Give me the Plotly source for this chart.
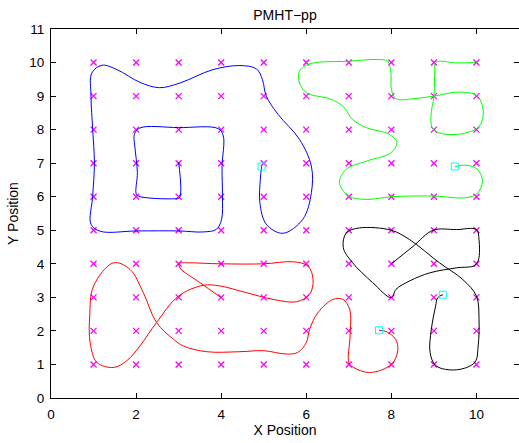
import plotly.graph_objects as go

# grid of candidate positions (magenta x)
grid_x = [1, 2, 3, 4, 5, 6, 7, 8, 9, 10]
grid_y = [1, 2, 3, 4, 5, 6, 7, 8, 9, 10]

# blue track
blue_x = [3.00, 3.02, 2.91, 2.05, 2.00, 2.03, 1.97, 1.96, 2.09, 3.00, 3.93, 4.05, 4.02, 4.03, 4.01, 3.89,
          3.58, 3.00, 2.02, 1.16, 0.94, 0.98, 1.02, 0.98, 0.94, 0.96, 1.20, 1.55, 2.09, 2.55, 3.03, 3.81,
          4.44, 4.83, 4.97, 5.06, 5.34, 5.84, 6.12, 6.12, 5.92, 5.45, 5.06, 4.91, 4.92, 4.95]
blue_y = [7.03, 5.97, 5.94, 6.02, 6.10, 6.72, 7.51, 7.86, 8.05, 8.06, 8.03, 7.81, 6.91, 6.02, 5.33, 5.03,
          4.95, 4.98, 4.98, 4.97, 5.18, 6.02, 7.01, 8.00, 9.00, 9.69, 9.92, 9.79, 9.41, 9.25, 9.39, 9.79,
          9.91, 9.81, 9.49, 9.00, 8.45, 7.71, 6.91, 6.12, 5.33, 4.91, 5.18, 5.82, 6.52, 6.90]

# green track
green_x = [10.0, 9.52, 9.05, 9.02, 9.00, 8.93, 8.97, 9.20, 9.67, 10.06, 10.16, 10.02, 9.59, 9.00, 8.50,
           8.11, 8.00, 7.99, 7.91, 7.64, 7.00, 6.08, 5.84, 5.83, 6.00, 6.55, 6.86, 7.09, 7.41, 7.95,
           8.13, 7.99, 7.41, 6.94, 6.78, 7.00, 7.41, 8.00, 9.00, 9.75, 10.02, 10.14, 10.02, 9.75, 9.49]
green_y = [10.0, 9.99, 10.01, 9.69, 9.00, 8.40, 8.03, 7.88, 7.88, 8.09, 8.55, 9.00, 9.12, 9.00, 8.92,
           8.92, 9.20, 9.69, 10.04, 10.09, 10.04, 9.96, 9.74, 9.44, 9.10, 8.92, 8.70, 8.30, 8.06, 7.86,
           7.61, 7.31, 7.06, 6.82, 6.42, 6.02, 5.92, 6.00, 6.02, 5.97, 6.10, 6.47, 6.82, 6.94, 6.90]

# red track
red_x = [3.99, 3.50, 3.03, 3.02, 3.19, 3.99, 5.00, 5.69, 6.04, 6.16, 6.08, 5.77, 5.22, 4.59, 3.97, 3.58,
         3.00, 2.48, 2.09, 1.78, 1.47, 1.08, 0.92, 0.91, 1.00, 1.47, 1.86, 2.17, 2.48, 2.88, 3.11, 3.66,
         4.44, 5.00, 5.53, 5.80, 6.00, 6.08, 6.27, 6.63, 6.86, 7.02, 7.03, 7.00, 7.10, 7.49, 8.00, 8.15,
         8.10, 7.88, 7.71]
red_y = [3.00, 3.44, 3.88, 4.01, 4.03, 4.00, 4.00, 4.06, 3.93, 3.53, 3.09, 2.87, 2.94, 3.14, 3.34, 3.36,
         3.04, 2.25, 1.55, 1.11, 0.91, 1.06, 1.65, 2.45, 3.34, 4.03, 3.83, 3.14, 2.25, 1.75, 1.55, 1.38,
         1.38, 1.41, 1.31, 1.36, 1.65, 2.05, 2.54, 2.94, 2.94, 2.64, 1.85, 1.06, 0.92, 0.76, 1.00, 1.41,
         1.75, 1.98, 2.02]

# black track
black_x = [8.00, 8.51, 8.98, 9.53, 10.00, 10.06, 10.05, 9.96, 9.53, 8.90, 8.43, 8.11, 8.00, 7.56, 7.09,
           6.87, 6.94, 7.25, 8.00, 8.43, 9.13, 9.68, 10.00, 10.06, 10.04, 9.96, 9.53, 9.05, 8.91, 8.94,
           9.04, 9.09, 9.21]
black_y = [4.00, 4.52, 5.00, 5.02, 5.02, 4.72, 4.13, 3.95, 3.88, 3.73, 3.49, 3.24, 2.99, 3.44, 4.03,
           4.48, 4.92, 5.07, 5.00, 4.72, 4.03, 3.53, 3.04, 2.35, 1.55, 1.06, 0.84, 0.96, 1.36, 2.05,
           2.74, 2.99, 3.08]

# final position estimates (cyan squares)
end_x = [4.95, 9.49, 7.71, 9.21]
end_y = [6.90, 6.90, 2.02, 3.08]

x_ticks = [0, 2, 4, 6, 8, 10]
y_ticks = [0, 1, 2, 3, 4, 5, 6, 7, 8, 9, 10, 11]

FONT = "Liberation Sans, Arial, Helvetica, sans-serif"

mesh_x = [gx for gy in grid_y for gx in grid_x]
mesh_y = [gy for gy in grid_y for gx in grid_x]

fig = go.Figure()
fig.add_trace(go.Scatter(x=mesh_x, y=mesh_y, mode="markers",
                         marker=dict(symbol="x-thin", size=6, line=dict(width=1.3, color="#ff00ff"),
                                     color="#ff00ff")))
for xs, ys, col in [(blue_x, blue_y, "#0000ff"), (green_x, green_y, "#00ff00"),
                    (red_x, red_y, "#ff0000"), (black_x, black_y, "#000000")]:
    fig.add_trace(go.Scatter(x=xs, y=ys, mode="lines",
                             line=dict(color=col, width=1, shape="spline", smoothing=1.0)))
fig.add_trace(go.Scatter(x=end_x, y=end_y, mode="markers",
                         marker=dict(symbol="square-open", size=7, color="#00ffff",
                                     line=dict(width=1, color="#00ffff"))))
# carrier for the right-hand tick axis
fig.add_trace(go.Scatter(x=[None], y=[None], yaxis="y2", mode="markers", hoverinfo="skip"))

tickfont = dict(family=FONT, size=13.5, color="black")

fig.update_layout(
    width=519, height=443,
    margin=dict(l=51, r=0, t=29, b=45),
    paper_bgcolor="white", plot_bgcolor="white",
    showlegend=False,
    title=dict(text="PMHT−pp", x=0.5, xref="paper", xanchor="center",
               y=1 - 15 / 443, yref="container", yanchor="middle",
               font=dict(family=FONT, size=14, color="black")),
    xaxis=dict(range=[0, 11], tickvals=x_ticks, ticklabelstandoff=4,
               showgrid=False, zeroline=False, showline=True, linecolor="black", linewidth=1,
               mirror="ticks", ticks="inside", ticklen=5, tickcolor="black", tickwidth=1,
               tickfont=tickfont,
               title=dict(text="X Position", standoff=2, font=dict(family=FONT, size=14, color="black"))),
    yaxis=dict(range=[0, 11], tickvals=y_ticks, ticklabelstandoff=3,
               showgrid=False, zeroline=False, showline=True, linecolor="black", linewidth=1,
               mirror=False, ticks="inside", ticklen=5, tickcolor="black", tickwidth=1,
               tickfont=tickfont,
               title=dict(text="Y Position", standoff=7, font=dict(family=FONT, size=14, color="black"))),
    yaxis2=dict(range=[0, 11], tickvals=y_ticks, overlaying="y", side="right",
                showgrid=False, zeroline=False, showline=False, showticklabels=False,
                ticks="inside", ticklen=5, tickcolor="black", tickwidth=1),
)

fig.write_html("out.html")
